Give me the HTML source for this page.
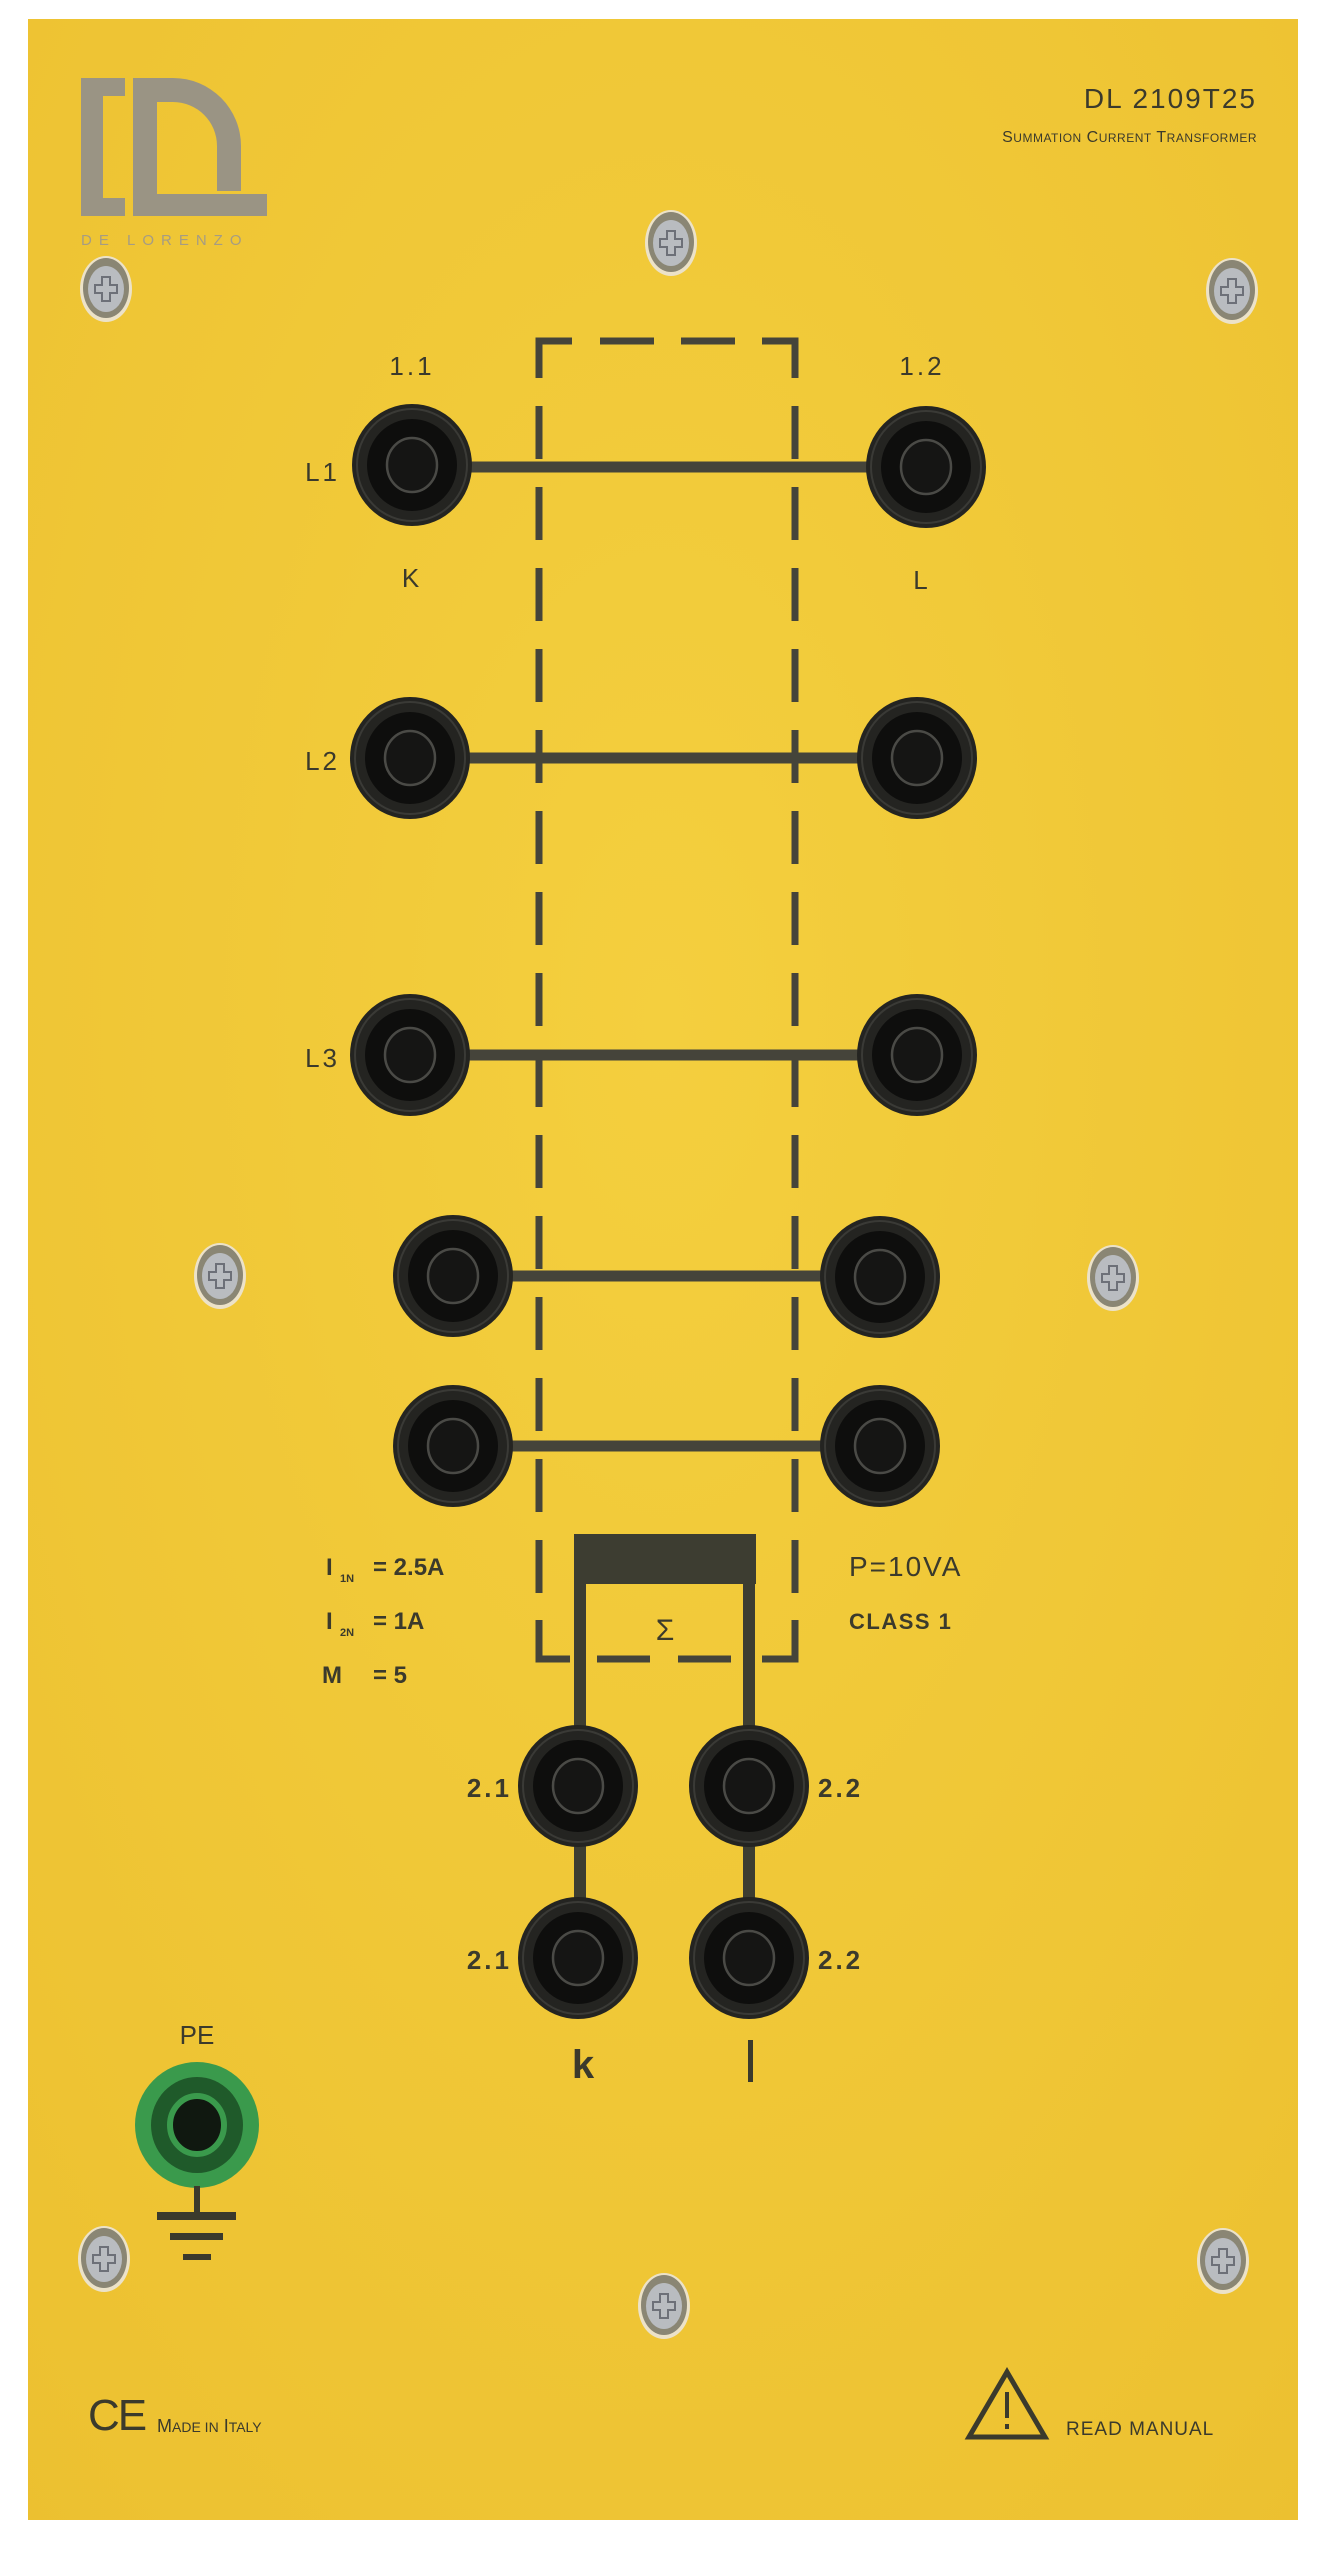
<!DOCTYPE html>
<html><head><meta charset="utf-8"><style>
html,body{margin:0;padding:0;background:#fff;}
svg{display:block}
text{font-family:"Liberation Sans",sans-serif;fill:#3b3a2c}
</style></head><body>
<svg width="1332" height="2560" viewBox="0 0 1332 2560" xmlns="http://www.w3.org/2000/svg">
<defs>
<radialGradient id="yel" cx="0.5" cy="0.4" r="0.8">
<stop offset="0" stop-color="#f4cf3e"/><stop offset="1" stop-color="#ecc030"/>
</radialGradient>
<g id="jack">
<ellipse cx="0" cy="0" rx="60" ry="61" fill="#242421"/>
<ellipse cx="0" cy="0" rx="55" ry="56" fill="none" stroke="#3a3a36" stroke-width="2"/>
<ellipse cx="0" cy="0" rx="45" ry="46" fill="#0e0e0d"/>
<ellipse cx="0" cy="0" rx="25" ry="27" fill="#151514" stroke="#4a4a46" stroke-width="2.5"/>
</g>
<g id="screw">
<ellipse cx="0" cy="0" rx="26" ry="33" fill="#ece2c8"/>
<ellipse cx="0" cy="-1" rx="23" ry="30" fill="#8a8674"/>
<ellipse cx="0" cy="0" rx="18" ry="23" fill="#b9bcc0"/>
<path d="M-4,-12 h8 v8 h7 v8 h-7 v8 h-8 v-8 h-7 v-8 h7z" fill="none" stroke="#6d7078" stroke-width="2"/>
</g>
</defs>
<rect x="28" y="19" width="1270" height="2501" fill="url(#yel)"/>

<!-- logo -->
<g fill="#9a9484">
<rect x="81" y="78" width="22" height="138"/>
<rect x="81" y="78" width="44" height="18"/>
<rect x="81" y="198" width="44" height="18"/>
<path d="M133,78 h40 a68,68 0 0 1 68,68 v45 h-24 v-45 a44,44 0 0 0 -44,-44 h-16 v92 h110 v22 h-134z"/>
</g>
<text x="81" y="245" font-size="15" letter-spacing="7" style="fill:#a59c84">DE LORENZO</text>

<text x="1257" y="108" font-size="28" text-anchor="end" letter-spacing="2">DL 2109T25</text>
<text x="1257" y="142" font-size="16" text-anchor="end" letter-spacing="0.5">S<tspan font-size="12">UMMATION</tspan> C<tspan font-size="12">URRENT</tspan> T<tspan font-size="12">RANSFORMER</tspan></text>

<!-- screws -->
<use href="#screw" x="106" y="289"/>
<use href="#screw" x="671" y="243"/>
<use href="#screw" x="1232" y="291"/>
<use href="#screw" x="220" y="1276"/>
<use href="#screw" x="1113" y="1278"/>
<use href="#screw" x="104" y="2259"/>
<use href="#screw" x="664" y="2306"/>
<use href="#screw" x="1223" y="2261"/>

<!-- dashed box -->
<g stroke="#45443a" stroke-width="7" fill="none">
<path d="M539,378 V341 H572"/>
<path d="M762,341 H795 V378"/>
<path d="M600,341 H654 M681,341 H735"/>
<line x1="539" y1="406" x2="539" y2="1630" stroke-dasharray="53 28"/>
<line x1="795" y1="406" x2="795" y2="1630" stroke-dasharray="53 28"/>
<path d="M539,1620 V1659 H570"/>
<path d="M795,1620 V1659 H762"/>
<path d="M597,1659 H650 M678,1659 H731"/>
</g>

<!-- horizontal connecting lines -->
<g stroke="#45443a" stroke-width="11">
<line x1="412" y1="467" x2="926" y2="467"/>
<line x1="410" y1="758" x2="917" y2="758"/>
<line x1="410" y1="1055" x2="917" y2="1055"/>
<line x1="453" y1="1276" x2="880" y2="1276"/>
<line x1="453" y1="1446" x2="880" y2="1446"/>
</g>

<!-- summation -->
<rect x="574" y="1534" width="182" height="50" fill="#3d3d31"/>
<g stroke="#3d3d31" stroke-width="12">
<line x1="580" y1="1580" x2="580" y2="1960"/>
<line x1="749" y1="1580" x2="749" y2="1960"/>
</g>
<text x="665" y="1640" font-size="30" text-anchor="middle" font-family="Liberation Serif">Σ</text>

<!-- jacks -->
<use href="#jack" x="412" y="465"/>
<use href="#jack" x="926" y="467"/>
<use href="#jack" x="410" y="758"/>
<use href="#jack" x="917" y="758"/>
<use href="#jack" x="410" y="1055"/>
<use href="#jack" x="917" y="1055"/>
<use href="#jack" x="453" y="1276"/>
<use href="#jack" x="880" y="1277"/>
<use href="#jack" x="453" y="1446"/>
<use href="#jack" x="880" y="1446"/>
<use href="#jack" x="578" y="1786"/>
<use href="#jack" x="749" y="1786"/>
<use href="#jack" x="578" y="1958"/>
<use href="#jack" x="749" y="1958"/>

<!-- labels -->
<g font-size="26" letter-spacing="3">
<text x="412" y="375" text-anchor="middle">1.1</text>
<text x="922" y="375" text-anchor="middle">1.2</text>
<text x="340" y="481" text-anchor="end">L1</text>
<text x="340" y="770" text-anchor="end">L2</text>
<text x="340" y="1067" text-anchor="end">L3</text>
<text x="412" y="587" text-anchor="middle">K</text>
<text x="922" y="589" text-anchor="middle">L</text>
<text x="512" y="1797" text-anchor="end" font-weight="bold">2.1</text>
<text x="512" y="1969" text-anchor="end" font-weight="bold">2.1</text>
<text x="818" y="1797" font-weight="bold">2.2</text>
<text x="818" y="1969" font-weight="bold">2.2</text>
</g>
<g font-size="24" font-weight="bold">
<text x="326" y="1575" font-family="Liberation Serif">I</text><text x="340" y="1582" font-size="11">1N</text><text x="373" y="1575">= 2.5A</text>
<text x="326" y="1629" font-family="Liberation Serif">I</text><text x="340" y="1636" font-size="11">2N</text><text x="373" y="1629">= 1A</text>
<text x="322" y="1683">M</text><text x="373" y="1683">= 5</text>
</g>
<text x="849" y="1576" font-size="28" letter-spacing="2">P=10VA</text>
<text x="849" y="1629" font-size="22" font-weight="bold" letter-spacing="1.5">CLASS 1</text>
<text x="583" y="2078" font-size="40" font-weight="bold" text-anchor="middle">k</text>
<rect x="748" y="2040" width="5" height="42" fill="#3b3a2c"/>

<!-- PE -->
<text x="197" y="2044" font-size="26" text-anchor="middle">PE</text>
<ellipse cx="197" cy="2125" rx="62" ry="63" fill="#3a9a4c"/>
<ellipse cx="197" cy="2125" rx="46" ry="48" fill="#1f5a2a"/>
<ellipse cx="197" cy="2125" rx="27" ry="29" fill="#101810" stroke="#3a9a4c" stroke-width="6"/>
<g fill="#3b3a2c">
<rect x="194" y="2186" width="6" height="30"/>
<rect x="157" y="2212" width="79" height="8"/>
<rect x="170" y="2233" width="53" height="7"/>
<rect x="183" y="2254" width="28" height="6"/>
</g>

<!-- footer -->
<text x="88" y="2430" font-size="44" fill="#3b3a2c" letter-spacing="-2">CE</text>
<text x="157" y="2432" font-size="18">M<tspan font-size="14">ADE IN</tspan> I<tspan font-size="14">TALY</tspan></text>
<path d="M1007,2372 L1045,2437 L969,2437 Z" fill="none" stroke="#3b3a2c" stroke-width="5" stroke-linejoin="miter"/>
<rect x="1005" y="2392" width="4" height="26" fill="#3b3a2c"/>
<rect x="1005" y="2424" width="4" height="5" fill="#3b3a2c"/>
<text x="1066" y="2435" font-size="19" letter-spacing="1">READ MANUAL</text>
</svg>
</body></html>
